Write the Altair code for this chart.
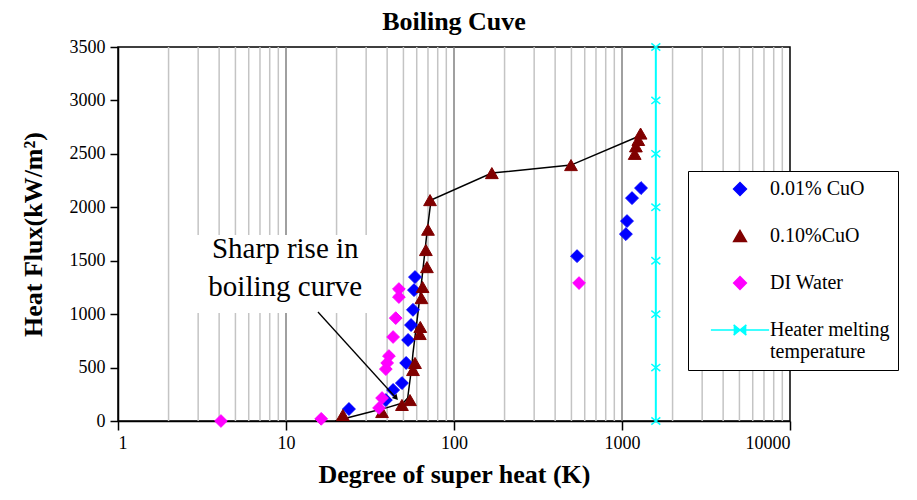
import altair as alt
import pandas as pd

# ---------------- data ----------------
series_names = ["0.01% CuO", "0.10%CuO", "DI Water", "Heater melting temperature"]

cuo001_x = [23.7, 39.3, 43.4, 49, 51.9, 53.3, 55.5, 57, 57.8, 58.6, 540, 1055, 1071, 1147, 1298]
cuo001_y = [112, 196, 290, 355, 543, 758, 898, 1040, 1225, 1347, 1543, 1749, 1871, 2086, 2180]

cuo010_x = [21.8, 37.3, 49, 54.7, 57, 58.6, 62.6, 63, 64, 65, 69, 68, 70, 72, 168, 497, 1190, 1210, 1250, 1290]
cuo010_y = [56, 84, 150, 196, 477, 543, 814, 880, 1150, 1254, 1440, 1600, 1790, 2067, 2320, 2395, 2500, 2570, 2630, 2690]

di_x = [4.1, 16.2, 35.8, 37.3, 39.3, 40, 41, 43.4, 45, 47, 47, 555]
di_y = [0, 20, 122, 215, 486, 543, 608, 786, 963, 1160, 1235, 1291]

curve_x = [19.6, 30, 40, 50, 53, 56, 57, 61, 64.6, 69, 73, 168, 497, 1280]
curve_y = [0, 75, 125, 170, 215, 505, 636, 1010, 1348, 1760, 2068, 2320, 2395, 2670]

heater_x = 1590
y_ticks = [0, 500, 1000, 1500, 2000, 2500, 3000, 3500]
x_ticks = [1, 10, 100, 1000, 10000]
minor_grid = [m * 10 ** k for k in range(4) for m in range(2, 10)]
major_grid = [10, 100, 1000]

# annotation (data coordinates)
ann_lines = ["Sharp rise in", "boiling curve"]
ann_x = [9.9, 9.9]
ann_y = [1610, 1250]
box_x = [2.8, 34]
box_y = [1010, 1740]
arrow_from = [15.5, 1020]
arrow_to = [45.2, 215]

# ---------------- styles ----------------
FONT = "Liberation Serif"
series_colors = ["#0000FF", "#800000", "#FF00FF", "#00FFFF"]
HEATER_LEGEND_PATH = "M-4.6,0L4.6,0M-1,-0.8L0,0L-1,0.8M1,-0.8L0,0L1,0.8"
HEATER_MARK_PATH = "M-1,-0.8L0,0L-1,0.8M1,-0.8L0,0L1,0.8"
series_shapes = ["diamond", "triangle-up", "diamond", HEATER_LEGEND_PATH]
series_sizes = [165, 160, 45, 100]

xs = alt.Scale(type="log", domain=[1, 10000], nice=False)
ys = alt.Scale(domain=[0, 3500], nice=False)

rows = []
for name, xv, yv in [(series_names[0], cuo001_x, cuo001_y),
                     (series_names[1], cuo010_x, cuo010_y),
                     (series_names[2], di_x, di_y)]:
    for a, b in zip(xv, yv):
        rows.append({"x": a, "y": b, "series": name})
pts = pd.DataFrame(rows)

legend = alt.Legend(
    title=None, orient="none", legendX=570, legendY=124,
    padding=8, fillColor="white", strokeColor="black",
    labelFont=FONT, labelFontSize=20, labelColor="black", labelLimit=300,
    symbolOffset=34, labelOffset=20, rowPadding=27, symbolStrokeWidth=1.5,
    labelExpr="datum.label == 'Heater melting temperature' ? ['Heater melting', 'temperature'] : datum.label",
)

x_axis = alt.Axis(values=x_ticks, format="d", tickSize=9,
                  labelFont=FONT, labelFontSize=18, labelPadding=4,
                  title="Degree of super heat (K)", titleFont=FONT, titleFontSize=26,
                  titleFontWeight="bold", titlePadding=9)
y_axis = alt.Axis(values=y_ticks, format="d", tickSize=8, labelFont=FONT, labelFontSize=18, labelPadding=5,
                  title="Heat Flux(kW/m²)", titleFont=FONT, titleFontSize=26,
                  titleFontWeight="bold", titlePadding=23)


def X(field):
    return alt.X(field, scale=xs, axis=x_axis)


def Y(field):
    return alt.Y(field, scale=ys, axis=y_axis)


minor = alt.Chart(pd.DataFrame({"g": minor_grid})).mark_rule(color="#c4c4c4", strokeWidth=1.5).encode(
    x=X("g:Q"))
major = alt.Chart(pd.DataFrame({"g": major_grid})).mark_rule(color="#808080", strokeWidth=1.5).encode(
    x=X("g:Q"))

box = alt.Chart(pd.DataFrame({"x1": [box_x[0]], "x2": [box_x[1]], "y1": [box_y[0]], "y2": [box_y[1]]})).mark_rect(
    color="white").encode(x=X("x1:Q"), x2="x2:Q", y=Y("y1:Q"), y2="y2:Q")

heater_line = alt.Chart(pd.DataFrame({"x": [heater_x], "y1": [y_ticks[0]], "y2": [y_ticks[-1]]})).mark_rule(
    color="#00FFFF", strokeWidth=2).encode(x=X("x:Q"), y=Y("y1:Q"), y2="y2:Q")
heater_marks = alt.Chart(pd.DataFrame({"x": [heater_x] * len(y_ticks), "y": y_ticks})).mark_point(
    shape=HEATER_MARK_PATH, filled=False, color="#00FFFF", size=80, strokeWidth=1.5, opacity=1).encode(
    x=X("x:Q"), y=Y("y:Q"))

curve = alt.Chart(pd.DataFrame({"x": curve_x, "y": curve_y, "o": list(range(len(curve_x)))})).mark_line(
    color="black", strokeWidth=1.5).encode(x=X("x:Q"), y=Y("y:Q"), order="o:Q")

points = alt.Chart(pts).mark_point(filled=True, opacity=1, strokeWidth=1).encode(
    x=X("x:Q"),
    y=Y("y:Q"),
    fill=alt.Fill("series:N", scale=alt.Scale(domain=series_names, range=series_colors), legend=legend),
    stroke=alt.Stroke("series:N", scale=alt.Scale(domain=series_names, range=series_colors), legend=legend),
    shape=alt.Shape("series:N", scale=alt.Scale(domain=series_names, range=series_shapes), legend=legend),
    size=alt.Size("series:N", scale=alt.Scale(domain=series_names, range=series_sizes), legend=legend),
)

ann_text = alt.Chart(pd.DataFrame({"x": ann_x, "y": ann_y, "t": ann_lines})).mark_text(
    font=FONT, fontSize=29, color="black", align="center", baseline="middle").encode(
    x=X("x:Q"), y=Y("y:Q"), text="t:N")

arrow_line = alt.Chart(pd.DataFrame({"x": [arrow_from[0]], "y": [arrow_from[1]],
                                     "x2": [arrow_to[0]], "y2": [arrow_to[1]]})).mark_rule(
    color="black", strokeWidth=1.3).encode(x=X("x:Q"), x2="x2:Q", y=Y("y:Q"), y2="y2:Q")
arrow_head = alt.Chart(pd.DataFrame({"x": [arrow_to[0]], "y": [arrow_to[1]]})).mark_point(
    shape="triangle-up", filled=True, color="black", size=40, angle=138, opacity=1).encode(
    x=X("x:Q"), y=Y("y:Q"))

chart = alt.layer(minor, major, box, heater_line, heater_marks, curve, points,
                  ann_text, arrow_line, arrow_head).properties(
    width=672, height=374,
    autosize=alt.AutoSizeParams(type="none"),
    padding={"left": 110, "top": 39, "right": 118, "bottom": 70},
    title=alt.TitleParams("Boiling Cuve", font=FONT, fontSize=26, fontWeight="bold",
                          anchor="middle", offset=3, color="black"),
).configure_view(stroke="black", strokeWidth=1.5).configure_axis(
    domainColor="black", domainWidth=1.5, tickColor="black", tickWidth=1.5,
    labelColor="black", titleColor="black", grid=False)

chart.save("out.html", embed_options={"renderer": "svg", "actions": False})
